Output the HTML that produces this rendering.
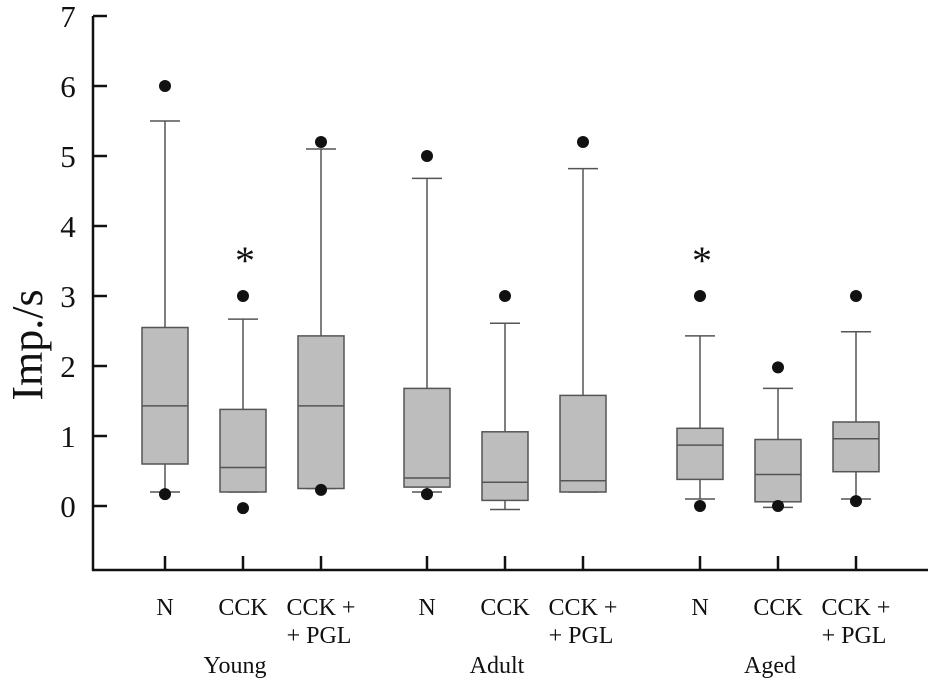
<!DOCTYPE html>
<html><head><meta charset="utf-8"><style>
body{margin:0;background:#fff}
text{font-family:"Liberation Serif",serif;fill:#111}
</style></head><body>
<svg id="chart" width="928" height="682" viewBox="0 0 928 682">
<g id="marks"></g>
<line x1="93" y1="16" x2="93" y2="571" stroke="#111" stroke-width="2.5"/>
<line x1="92" y1="570" x2="928" y2="570" stroke="#111" stroke-width="2.5"/>
<text x="42" y="345" font-size="44" transform="rotate(-90 42 345)" text-anchor="middle">Imp./s</text>
</svg>
<script>
const yTicks=[0,1,2,3,4,5,6,7];
const categories=["N","CCK","CCK + PGL","N","CCK","CCK + PGL","N","CCK","CCK + PGL"];
const groups=["Young","Adult","Aged"];
const whiskerLow=[0.2,0.2,0.25,0.2,-0.05,0.2,0.1,-0.02,0.1];
const q1=[0.6,0.2,0.25,0.27,0.08,0.2,0.38,0.06,0.49];
const median=[1.43,0.55,1.43,0.4,0.34,0.36,0.87,0.45,0.96];
const q3=[2.55,1.38,2.43,1.68,1.06,1.58,1.11,0.95,1.2];
const whiskerHigh=[5.5,2.67,5.1,4.68,2.61,4.82,2.43,1.68,2.49];
const outliersHigh=[6.0,3.0,5.2,5.0,3.0,5.2,3.0,1.98,3.0];
const outliersLow=[0.17,-0.03,0.23,0.17,null,null,0.0,0.0,0.07];
const significant=[false,true,false,false,false,false,true,false,false];

const ns="http://www.w3.org/2000/svg";
const g=document.getElementById('marks');
const svg=document.getElementById('chart');
const y=v=>506-v*70;
const x=i=>165+Math.floor(i/3)*262+(i%3)*78+(Math.floor(i/3)==2?11:0);
function mk(t,a,p){const e=document.createElementNS(ns,t);for(const k in a)e.setAttribute(k,a[k]);(p||g).appendChild(e);return e;}
yTicks.forEach(v=>{
 const l=mk('line',{x1:93,x2:107,y1:y(v),y2:y(v),stroke:'#111','stroke-width':2.5},svg);
 
 
 const t=mk('text',{x:68,y:y(v)+11,'font-size':31,'text-anchor':'middle'},svg);t.textContent=v;
 
 
});
categories.forEach((c,i)=>{
 const cx=x(i),w=46;
 const tk=mk('line',{x1:cx,x2:cx,y1:556,y2:570,stroke:'#111','stroke-width':2.5},svg);
 
 
 const ln=mk('line',{x1:cx,x2:cx,y1:y(whiskerHigh[i]),y2:y(whiskerLow[i]),stroke:'#555','stroke-width':1.5});
 
 
 [whiskerHigh[i],whiskerLow[i]].forEach(v=>{const cp=mk('line',{x1:cx-15,x2:cx+15,y1:y(v),y2:y(v),stroke:'#555','stroke-width':1.5});
  
  });
 const b=mk('rect',{x:cx-w/2,y:y(q3[i]),width:w,height:y(q1[i])-y(q3[i]),fill:'#bdbdbd',stroke:'#555','stroke-width':1.5});
 
 
 const m=mk('line',{x1:cx-w/2,x2:cx+w/2,y1:y(median[i]),y2:y(median[i]),stroke:'#555','stroke-width':1.5});
 
 
 [outliersHigh[i],outliersLow[i]].forEach(v=>{if(v===null)return;const d=mk('circle',{cx:cx,cy:y(v),r:6,fill:'#111'});
  
  });
 if(significant[i]){const s=mk('text',{x:cx+2,y:y(outliersHigh[i])-22,'font-size':40,'text-anchor':'middle'});s.textContent='*';
  
  }
 const parts=c==="CCK + PGL"?["CCK +","+ PGL"]:[c];
 parts.forEach((p,k)=>{const t=mk('text',{x:cx+(k==1?-2:0),y:615+k*28,'font-size':24,'text-anchor':'middle'},svg);t.textContent=p;
  
  });
});
groups.forEach((gn,j)=>{const t=mk('text',{x:x(j*3+1)-8,y:673,'font-size':24,'text-anchor':'middle'},svg);t.textContent=gn;
 
 });
</script>
</body></html>
